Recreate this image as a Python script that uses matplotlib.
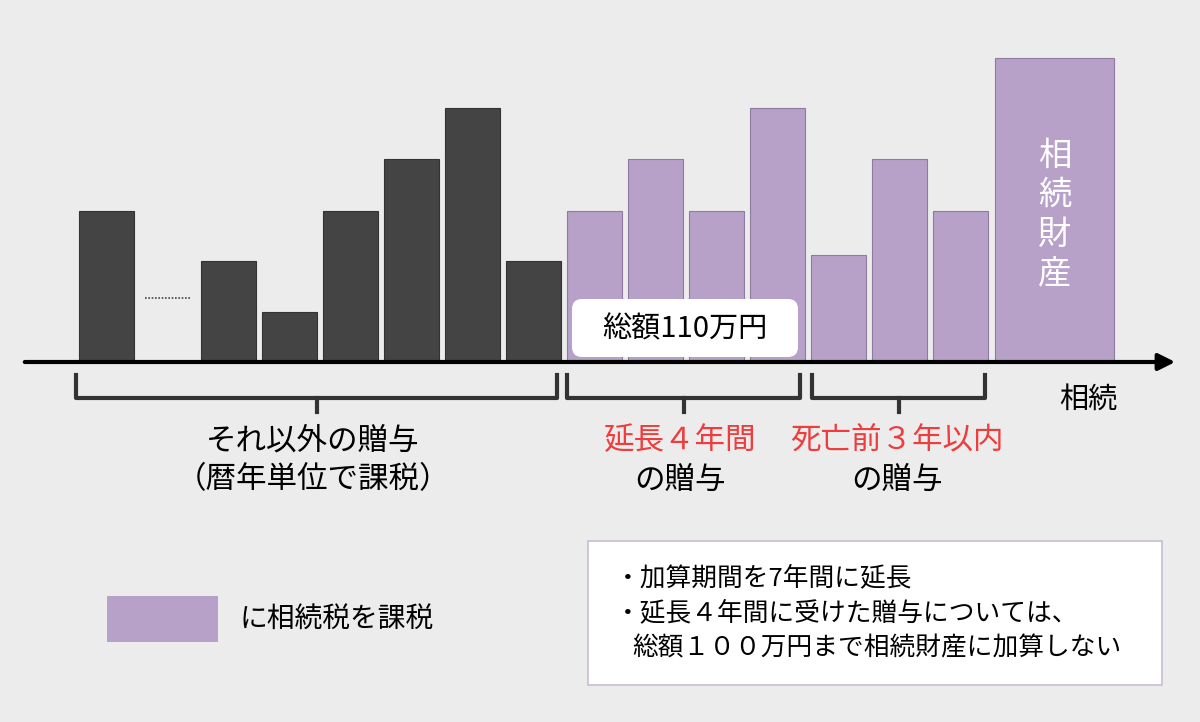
import matplotlib
matplotlib.use("Agg")
import matplotlib.pyplot as plt
from matplotlib.patches import FancyBboxPatch, Rectangle

plt.rcParams["font.family"] = "Noto Sans CJK JP"

# bar heights (pixels above baseline), slot index -> height; slot 1 is the "..." gap
dark_slots = [0, 2, 3, 4, 5, 6, 7]
dark_heights = [151, 101, 50, 151, 203, 254, 101]
purple_slots = [8, 9, 10, 11, 12, 13, 14]
purple_heights = [151, 203, 151, 254, 107, 203, 151]
estate_height = 304
estate_label = "相\n続\n財\n産"

DARK = "#444444"
PURPLE = "#b8a1c9"
RED = "#f03c3c"
BASE = 362
X0, STEP, W = 79, 61, 55

fig = plt.figure(figsize=(12, 7.22), dpi=100)
fig.patch.set_facecolor("#ececec")
ax = fig.add_axes([0, 0, 1, 1])
ax.set_xlim(0, 1200)
ax.set_ylim(722, 0)
ax.axis("off")

for s, h in zip(dark_slots, dark_heights):
    ax.bar(X0 + s * STEP, -h, width=W, bottom=BASE, align="edge",
           color=DARK, edgecolor="#333333", lw=0.8)
for s, h in zip(purple_slots, purple_heights):
    ax.bar(X0 + s * STEP, -h, width=W, bottom=BASE, align="edge",
           color=PURPLE, edgecolor="#8f7aa0", lw=0.8)
ax.bar(995, -estate_height, width=119, bottom=BASE, align="edge",
       color=PURPLE, edgecolor="#8f7aa0", lw=0.8)
ax.text(1055, 215, estate_label, color="white", fontsize=24,
        ha="center", va="center", linespacing=1.15)

# dotted gap marker
ax.plot([145, 190], [298, 298], ls=(0, (1, 1)), color="#444444", lw=1.2)

# axis arrow
ax.annotate("", xy=(1178, BASE), xytext=(22, BASE),
            arrowprops=dict(arrowstyle="-|>,head_length=1.0,head_width=0.5",
                            color="black", lw=3))
ax.text(1088, 400, "相続", fontsize=21, ha="center", va="center")

# total box
ax.add_patch(FancyBboxPatch((572, 299), 226, 58, boxstyle="round,pad=0,rounding_size=10",
                            facecolor="white", edgecolor="none"))
ax.text(685, 329, "総額110万円", fontsize=21, ha="center", va="center")

# brackets
for x1, x2 in [(76, 557), (567, 800), (812, 985)]:
    c = (x1 + x2) / 2
    ax.plot([x1, x1, x2, x2], [375, 398, 398, 375], color="#333333", lw=3)
    ax.plot([c, c], [398, 412], color="#333333", lw=3)

ax.text(313, 441, "それ以外の贈与", fontsize=22, ha="center", va="center")
ax.text(313, 480, "（暦年単位で課税）", fontsize=22, ha="center", va="center")
ax.text(680, 441, "延長４年間", fontsize=22, ha="center", va="center", color=RED)
ax.text(680, 480, "の贈与", fontsize=22, ha="center", va="center")
ax.text(897, 441, "死亡前３年以内", fontsize=22, ha="center", va="center", color=RED)
ax.text(897, 480, "の贈与", fontsize=22, ha="center", va="center")

# legend
ax.add_patch(Rectangle((107, 596), 111, 46, facecolor=PURPLE, edgecolor="none"))
ax.text(240, 620, "に相続税を課税", fontsize=20, va="center")

# note box
ax.add_patch(Rectangle((588, 541), 574, 144, facecolor="white", edgecolor="#c8bcd4", lw=1.2))
ax.text(615, 578, "・加算期間を7年間に延長", fontsize=18.5, va="center")
ax.text(615, 613, "・延長４年間に受けた贈与については、", fontsize=18.5, va="center")
ax.text(632, 648, "総額１００万円まで相続財産に加算しない", fontsize=18.5, va="center")

fig.savefig("out.png", dpi=100, facecolor=fig.get_facecolor())
